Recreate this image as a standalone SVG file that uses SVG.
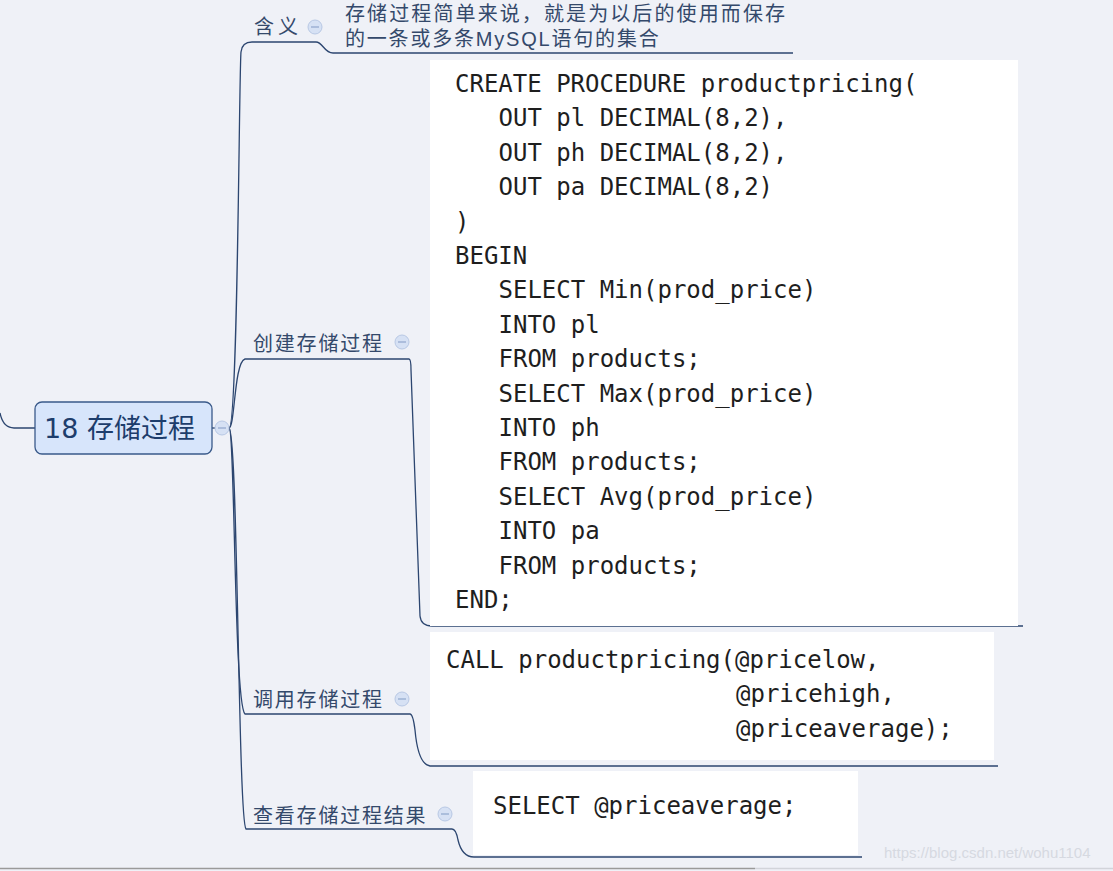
<svg xmlns="http://www.w3.org/2000/svg" width="1113" height="871" viewBox="0 0 1113 871">
<style>
.bg{fill:#eff1f7}
.conn{fill:none;stroke:#2c4670;stroke-width:1.3}
.lbl{font-family:"Noto Sans CJK SC","DejaVu Sans",sans-serif;font-size:20px;fill:#34496b}
.desc{font-family:"Liberation Sans","Noto Sans CJK SC",sans-serif;font-size:20px;fill:#34496b}
.tl{letter-spacing:1.8px}
.col{fill:#d6e1f4;stroke:#b8c8e4;stroke-width:1}
.colm{stroke:#8fa6cc;stroke-width:1.2}
.code{font-family:"DejaVu Sans Mono","Liberation Mono",monospace;font-size:24px;fill:#1e1e1e}
.box{fill:#ffffff}
</style>
<rect class="bg" x="0" y="0" width="1113" height="871"/>
<line x1="0" y1="868.5" x2="755" y2="868.5" stroke="#9a9a9a" stroke-width="1.5"/>
<line x1="755" y1="868.5" x2="1113" y2="868.5" stroke="#d2d4da" stroke-width="1.5"/>

<g id="connectors">
<path class="conn" d="M0,413 Q3,428 14,428 L35,428"/>
<path class="conn" d="M212,428 L230,428"/>
<path class="conn" d="M229,428 C238,428 239,70 241,52 Q242,42 252,42 L316,42 C323,42 324,53 333,53 L793,53"/>
<path class="conn" d="M229,428 C235,428 234,362 245,359 L409,359 Q411,359 411,370 L420,616 Q421,626 432,626 L1023,626"/>
<path class="conn" d="M229,428 C235,428 234,705 245,714 L410,714 Q413,714 415,730 Q418,764 430,766 L998,766"/>
<path class="conn" d="M229,428 C238,428 238,820 246,829 L452,829 Q456,829 458,840 Q462,857 474,857 L862,857"/>
</g>

<g id="root">
<rect x="35" y="402" width="177" height="52" rx="7" fill="#d7e5fb" stroke="#3a5a8a" stroke-width="1.3"/>
<text x="44" y="438" font-family="DejaVu Sans,'Noto Sans CJK SC',sans-serif" font-size="27" fill="#1d3d6c">18 存储过程</text>
<circle class="col" cx="222" cy="428" r="7"/>
<line class="colm" x1="218" y1="428" x2="226" y2="428"/>
</g>

<g id="node-meaning">
<text class="lbl" x="254" y="34" letter-spacing="4">含义</text>
<circle class="col" cx="315" cy="27" r="7"/>
<line class="colm" x1="311" y1="27" x2="319" y2="27"/>
</g>

<g id="node-meaning-text">
<text class="desc" x="345" y="21" textLength="440" lengthAdjust="spacing">存储过程简单来说，就是为以后的使用而保存</text>
<text class="desc tl" x="345" y="46">的一条或多条MySQL语句的集合</text>
</g>

<g id="node-create">
<text class="lbl tl" x="253" y="351">创建存储过程</text>
<circle class="col" cx="402" cy="342" r="7"/>
<line class="colm" x1="398" y1="342" x2="406" y2="342"/>
</g>

<g id="node-create-code">
<rect class="box" x="430" y="60" width="588" height="566"/>
<text class="code" x="455" y="92">CREATE PROCEDURE productpricing(</text>
<text class="code" x="498.5" y="126.4">OUT pl DECIMAL(8,2),</text>
<text class="code" x="498.5" y="160.8">OUT ph DECIMAL(8,2),</text>
<text class="code" x="498.5" y="195.2">OUT pa DECIMAL(8,2)</text>
<text class="code" x="455" y="229.6">)</text>
<text class="code" x="455" y="264">BEGIN</text>
<text class="code" x="498.5" y="298.4">SELECT Min(prod_price)</text>
<text class="code" x="498.5" y="332.8">INTO pl</text>
<text class="code" x="498.5" y="367.2">FROM products;</text>
<text class="code" x="498.5" y="401.6">SELECT Max(prod_price)</text>
<text class="code" x="498.5" y="436">INTO ph</text>
<text class="code" x="498.5" y="470.4">FROM products;</text>
<text class="code" x="498.5" y="504.8">SELECT Avg(prod_price)</text>
<text class="code" x="498.5" y="539.2">INTO pa</text>
<text class="code" x="498.5" y="573.6">FROM products;</text>
<text class="code" x="455" y="608">END;</text>
</g>

<g id="node-call">
<text class="lbl tl" x="253" y="707">调用存储过程</text>
<circle class="col" cx="402" cy="699" r="7"/>
<line class="colm" x1="398" y1="699" x2="406" y2="699"/>
</g>

<g id="node-call-code">
<rect class="box" x="430" y="632" width="564" height="128"/>
<text class="code" x="446" y="668">CALL productpricing(@pricelow,</text>
<text class="code" x="736" y="702.4">@pricehigh,</text>
<text class="code" x="736" y="736.8">@priceaverage);</text>
</g>

<g id="node-view">
<text class="lbl tl" x="253" y="823">查看存储过程结果</text>
<circle class="col" cx="445" cy="814" r="7"/>
<line class="colm" x1="441" y1="814" x2="449" y2="814"/>
</g>

<g id="node-view-code">
<rect class="box" x="473" y="771" width="385" height="84"/>
<text class="code" x="493" y="814">SELECT @priceaverage;</text>
</g>

<text x="884" y="858" font-family="Liberation Sans,Arial,sans-serif" font-size="15" fill="#d6d9e1">https://blog.csdn.net/wohu1104</text>
</svg>
